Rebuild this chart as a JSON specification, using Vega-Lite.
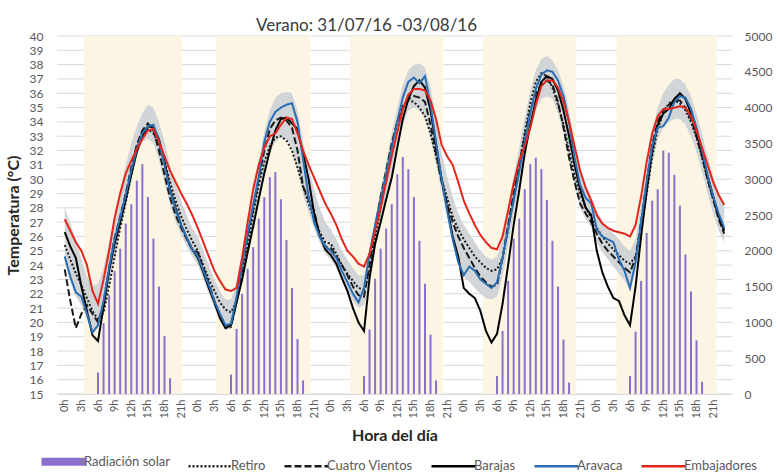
{
  "$schema": "https://vega.github.io/schema/vega-lite/v6.json",
  "width": 777,
  "height": 474,
  "autosize": {"type": "fit", "contains": "padding"},
  "padding": {"left": 5, "top": 17, "right": 5, "bottom": -4},
  "background": "white",
  "title": {"text": "Verano: 31/07/16 -03/08/16", "anchor": "middle", "dx": -28, "fontSize": 17, "fontWeight": "normal", "font": "Lato", "color": "#3a3a3a", "offset": -5},
  "config": {
    "font": "Lato",
    "view": {"stroke": null},
    "axisBottom": {"labelOverlap": false, "labelBound": false, "labelFlush": false, "labelAngle": -90, "grid": false, "ticks": false, "domainColor": "#d9d9d9", "labelColor": "#595959", "labelFontSize": 11, "labelPadding": 5, "titleFontSize": 16, "titleFontWeight": "bold", "titleColor": "#262626", "titlePadding": 10},
    "axisLeft": {"labelOverlap": false, "grid": false, "ticks": false, "domain": false, "labelColor": "#595959", "labelFontSize": 12, "labelPadding": 14, "titleFontSize": 16, "titleFontWeight": "bold", "titleColor": "#262626", "titlePadding": 8},
    "axisRight": {"labelOverlap": false, "grid": false, "ticks": false, "domain": false, "labelColor": "#595959", "labelFontSize": 12, "labelPadding": 12}
  },
  "datasets": {
    "grid": [
      {"v": 15}, {"v": 16}, {"v": 17}, {"v": 18}, {"v": 19}, {"v": 20}, {"v": 21}, {"v": 22}, {"v": 23}, {"v": 24}, {"v": 25}, {"v": 26}, {"v": 27},
      {"v": 28}, {"v": 29}, {"v": 30}, {"v": 31}, {"v": 32}, {"v": 33}, {"v": 34}, {"v": 35}, {"v": 36}, {"v": 37}, {"v": 38}, {"v": 39}, {"v": 40}
    ],
    "bands": [
      {"h": 3.5, "h2": 21.1}, {"h": 27.3, "h2": 44.3}, {"h": 51.5, "h2": 68.3}, {"h": 75.5, "h2": 92.3}, {"h": 99.6, "h2": 117.6}
    ],
    "rad": [
      {"h": 6, "rad": 300, "serie": "Radiación solar"}, {"h": 7, "rad": 990, "serie": "Radiación solar"}, {"h": 8, "rad": 1380, "serie": "Radiación solar"}, {"h": 9, "rad": 1720, "serie": "Radiación solar"}, {"h": 10, "rad": 2030, "serie": "Radiación solar"}, {"h": 11, "rad": 2380, "serie": "Radiación solar"}, {"h": 12, "rad": 2650, "serie": "Radiación solar"}, {"h": 13, "rad": 2980, "serie": "Radiación solar"}, {"h": 14, "rad": 3210, "serie": "Radiación solar"}, {"h": 15, "rad": 2750, "serie": "Radiación solar"}, {"h": 16, "rad": 2170, "serie": "Radiación solar"}, {"h": 17, "rad": 1500, "serie": "Radiación solar"}, {"h": 18, "rad": 810, "serie": "Radiación solar"}, {"h": 19, "rad": 220, "serie": "Radiación solar"},
      {"h": 30, "rad": 270, "serie": "Radiación solar"}, {"h": 31, "rad": 910, "serie": "Radiación solar"}, {"h": 32, "rad": 1400, "serie": "Radiación solar"}, {"h": 33, "rad": 1750, "serie": "Radiación solar"}, {"h": 34, "rad": 2050, "serie": "Radiación solar"}, {"h": 35, "rad": 2450, "serie": "Radiación solar"}, {"h": 36, "rad": 2750, "serie": "Radiación solar"}, {"h": 37, "rad": 3030, "serie": "Radiación solar"}, {"h": 38, "rad": 3100, "serie": "Radiación solar"}, {"h": 39, "rad": 2720, "serie": "Radiación solar"}, {"h": 40, "rad": 2150, "serie": "Radiación solar"}, {"h": 41, "rad": 1480, "serie": "Radiación solar"}, {"h": 42, "rad": 770, "serie": "Radiación solar"}, {"h": 43, "rad": 190, "serie": "Radiación solar"},
      {"h": 54, "rad": 250, "serie": "Radiación solar"}, {"h": 55, "rad": 900, "serie": "Radiación solar"}, {"h": 56, "rad": 1610, "serie": "Radiación solar"}, {"h": 57, "rad": 2030, "serie": "Radiación solar"}, {"h": 58, "rad": 2310, "serie": "Radiación solar"}, {"h": 59, "rad": 2650, "serie": "Radiación solar"}, {"h": 60, "rad": 3070, "serie": "Radiación solar"}, {"h": 61, "rad": 3310, "serie": "Radiación solar"}, {"h": 62, "rad": 3140, "serie": "Radiación solar"}, {"h": 63, "rad": 2750, "serie": "Radiación solar"}, {"h": 64, "rad": 2140, "serie": "Radiación solar"}, {"h": 65, "rad": 1540, "serie": "Radiación solar"}, {"h": 66, "rad": 830, "serie": "Radiación solar"}, {"h": 67, "rad": 190, "serie": "Radiación solar"},
      {"h": 78, "rad": 250, "serie": "Radiación solar"}, {"h": 79, "rad": 880, "serie": "Radiación solar"}, {"h": 80, "rad": 1580, "serie": "Radiación solar"}, {"h": 81, "rad": 2170, "serie": "Radiación solar"}, {"h": 82, "rad": 2450, "serie": "Radiación solar"}, {"h": 83, "rad": 2860, "serie": "Radiación solar"}, {"h": 84, "rad": 3210, "serie": "Radiación solar"}, {"h": 85, "rad": 3300, "serie": "Radiación solar"}, {"h": 86, "rad": 3140, "serie": "Radiación solar"}, {"h": 87, "rad": 2710, "serie": "Radiación solar"}, {"h": 88, "rad": 2140, "serie": "Radiación solar"}, {"h": 89, "rad": 1500, "serie": "Radiación solar"}, {"h": 90, "rad": 760, "serie": "Radiación solar"}, {"h": 91, "rad": 160, "serie": "Radiación solar"},
      {"h": 102, "rad": 250, "serie": "Radiación solar"}, {"h": 103, "rad": 870, "serie": "Radiación solar"}, {"h": 104, "rad": 1580, "serie": "Radiación solar"}, {"h": 105, "rad": 2250, "serie": "Radiación solar"}, {"h": 106, "rad": 2700, "serie": "Radiación solar"}, {"h": 107, "rad": 2860, "serie": "Radiación solar"}, {"h": 108, "rad": 3400, "serie": "Radiación solar"}, {"h": 109, "rad": 3370, "serie": "Radiación solar"}, {"h": 110, "rad": 3060, "serie": "Radiación solar"}, {"h": 111, "rad": 2630, "serie": "Radiación solar"}, {"h": 112, "rad": 1950, "serie": "Radiación solar"}, {"h": 113, "rad": 1430, "serie": "Radiación solar"}, {"h": 114, "rad": 750, "serie": "Radiación solar"}, {"h": 115, "rad": 170, "serie": "Radiación solar"}
    ],
    "temp": [
      {"h": 0, "Retiro": 25.4, "Cuatro Vientos": 23.7, "Barajas": 26.3, "Aravaca": 24.6, "Embajadores": 27.2, "lo": 24.2, "hi": 28.0},
      {"h": 1, "Retiro": 24.4, "Cuatro Vientos": 21.5, "Barajas": 25.3, "Aravaca": 23.2, "Embajadores": 26.4, "lo": 22.8, "hi": 26.9},
      {"h": 2, "Retiro": 23.4, "Cuatro Vientos": 19.6, "Barajas": 24.5, "Aravaca": 22.1, "Embajadores": 25.6, "lo": 21.8, "hi": 25.8},
      {"h": 3, "Retiro": 22.6, "Cuatro Vientos": 20.6, "Barajas": 22.5, "Aravaca": 21.8, "Embajadores": 25.0, "lo": 21.2, "hi": 24.4},
      {"h": 4, "Retiro": 21.7, "Cuatro Vientos": 21.2, "Barajas": 20.8, "Aravaca": 20.6, "Embajadores": 24.0, "lo": 20.2, "hi": 23.2},
      {"h": 5, "Retiro": 20.8, "Cuatro Vientos": 20.6, "Barajas": 19.1, "Aravaca": 19.3, "Embajadores": 22.2, "lo": 19.2, "hi": 22.5},
      {"h": 6, "Retiro": 20.2, "Cuatro Vientos": 20.0, "Barajas": 18.7, "Aravaca": 19.8, "Embajadores": 21.3, "lo": 19.6, "hi": 22.7},
      {"h": 7, "Retiro": 20.7, "Cuatro Vientos": 21.3, "Barajas": 21.1, "Aravaca": 21.5, "Embajadores": 23.0, "lo": 20.6, "hi": 23.8},
      {"h": 8, "Retiro": 22.5, "Cuatro Vientos": 23.8, "Barajas": 23.6, "Aravaca": 23.8, "Embajadores": 25.0, "lo": 22.4, "hi": 25.6},
      {"h": 9, "Retiro": 24.6, "Cuatro Vientos": 25.9, "Barajas": 25.5, "Aravaca": 25.8, "Embajadores": 27.3, "lo": 24.5, "hi": 27.5},
      {"h": 10, "Retiro": 26.6, "Cuatro Vientos": 27.4, "Barajas": 27.0, "Aravaca": 27.3, "Embajadores": 29.0, "lo": 26.4, "hi": 29.3},
      {"h": 11, "Retiro": 28.4, "Cuatro Vientos": 29.0, "Barajas": 28.6, "Aravaca": 28.9, "Embajadores": 30.4, "lo": 28.1, "hi": 31.0},
      {"h": 12, "Retiro": 30.3, "Cuatro Vientos": 30.8, "Barajas": 30.3, "Aravaca": 30.6, "Embajadores": 31.3, "lo": 30.0, "hi": 32.5},
      {"h": 13, "Retiro": 32.2, "Cuatro Vientos": 32.4, "Barajas": 31.9, "Aravaca": 32.1, "Embajadores": 32.1, "lo": 31.7, "hi": 33.7},
      {"h": 14, "Retiro": 33.3, "Cuatro Vientos": 33.4, "Barajas": 33.0, "Aravaca": 33.2, "Embajadores": 32.8, "lo": 32.6, "hi": 34.6},
      {"h": 15, "Retiro": 33.5, "Cuatro Vientos": 33.9, "Barajas": 33.7, "Aravaca": 33.7, "Embajadores": 33.4, "lo": 32.8, "hi": 35.2},
      {"h": 16, "Retiro": 33.2, "Cuatro Vientos": 33.4, "Barajas": 33.6, "Aravaca": 33.8, "Embajadores": 33.5, "lo": 32.5, "hi": 35.0},
      {"h": 17, "Retiro": 32.4, "Cuatro Vientos": 32.0, "Barajas": 32.8, "Aravaca": 32.7, "Embajadores": 32.6, "lo": 31.3, "hi": 34.0},
      {"h": 18, "Retiro": 31.2, "Cuatro Vientos": 30.3, "Barajas": 31.2, "Aravaca": 31.0, "Embajadores": 31.6, "lo": 29.7, "hi": 32.6},
      {"h": 19, "Retiro": 29.8, "Cuatro Vientos": 28.7, "Barajas": 29.3, "Aravaca": 29.2, "Embajadores": 30.6, "lo": 28.2, "hi": 31.0},
      {"h": 20, "Retiro": 28.5, "Cuatro Vientos": 27.5, "Barajas": 28.0, "Aravaca": 27.9, "Embajadores": 29.8, "lo": 27.0, "hi": 29.6},
      {"h": 21, "Retiro": 27.4, "Cuatro Vientos": 26.6, "Barajas": 26.8, "Aravaca": 26.8, "Embajadores": 29.0, "lo": 26.1, "hi": 28.5},
      {"h": 22, "Retiro": 26.5, "Cuatro Vientos": 25.8, "Barajas": 25.9, "Aravaca": 25.9, "Embajadores": 28.3, "lo": 25.3, "hi": 27.5},
      {"h": 23, "Retiro": 25.7, "Cuatro Vientos": 25.1, "Barajas": 25.1, "Aravaca": 25.1, "Embajadores": 27.5, "lo": 24.6, "hi": 26.6},
      {"h": 24, "Retiro": 25.0, "Cuatro Vientos": 24.9, "Barajas": 24.5, "Aravaca": 24.6, "Embajadores": 26.6, "lo": 24.0, "hi": 26.0},
      {"h": 25, "Retiro": 24.0, "Cuatro Vientos": 23.8, "Barajas": 23.5, "Aravaca": 23.6, "Embajadores": 25.6, "lo": 23.0, "hi": 25.0},
      {"h": 26, "Retiro": 23.0, "Cuatro Vientos": 22.7, "Barajas": 22.4, "Aravaca": 22.6, "Embajadores": 24.6, "lo": 22.0, "hi": 24.0},
      {"h": 27, "Retiro": 22.2, "Cuatro Vientos": 21.5, "Barajas": 21.4, "Aravaca": 21.5, "Embajadores": 23.6, "lo": 21.0, "hi": 23.0},
      {"h": 28, "Retiro": 21.4, "Cuatro Vientos": 20.5, "Barajas": 20.3, "Aravaca": 20.6, "Embajadores": 22.9, "lo": 20.1, "hi": 22.2},
      {"h": 29, "Retiro": 20.9, "Cuatro Vientos": 19.8, "Barajas": 19.6, "Aravaca": 19.8, "Embajadores": 22.3, "lo": 19.5, "hi": 21.6},
      {"h": 30, "Retiro": 20.7, "Cuatro Vientos": 19.7, "Barajas": 19.8, "Aravaca": 19.9, "Embajadores": 22.2, "lo": 19.5, "hi": 21.6},
      {"h": 31, "Retiro": 21.5, "Cuatro Vientos": 21.5, "Barajas": 21.4, "Aravaca": 21.8, "Embajadores": 22.4, "lo": 20.9, "hi": 22.8},
      {"h": 32, "Retiro": 23.2, "Cuatro Vientos": 23.8, "Barajas": 23.0, "Aravaca": 24.0, "Embajadores": 24.5, "lo": 22.8, "hi": 25.0},
      {"h": 33, "Retiro": 25.3, "Cuatro Vientos": 26.0, "Barajas": 24.9, "Aravaca": 26.2, "Embajadores": 27.0, "lo": 24.6, "hi": 27.2},
      {"h": 34, "Retiro": 27.6, "Cuatro Vientos": 28.0, "Barajas": 26.7, "Aravaca": 28.2, "Embajadores": 29.3, "lo": 26.4, "hi": 29.4},
      {"h": 35, "Retiro": 29.6, "Cuatro Vientos": 30.0, "Barajas": 28.6, "Aravaca": 30.2, "Embajadores": 31.0, "lo": 28.4, "hi": 31.3},
      {"h": 36, "Retiro": 31.2, "Cuatro Vientos": 32.0, "Barajas": 30.4, "Aravaca": 32.6, "Embajadores": 32.2, "lo": 30.3, "hi": 33.3},
      {"h": 37, "Retiro": 32.3, "Cuatro Vientos": 33.5, "Barajas": 32.0, "Aravaca": 34.0, "Embajadores": 33.0, "lo": 31.8, "hi": 34.8},
      {"h": 38, "Retiro": 32.9, "Cuatro Vientos": 34.1, "Barajas": 33.4, "Aravaca": 34.7, "Embajadores": 33.2, "lo": 32.6, "hi": 35.7},
      {"h": 39, "Retiro": 33.0, "Cuatro Vientos": 34.3, "Barajas": 34.2, "Aravaca": 35.0, "Embajadores": 33.8, "lo": 32.9, "hi": 36.0},
      {"h": 40, "Retiro": 32.7, "Cuatro Vientos": 34.1, "Barajas": 34.3, "Aravaca": 35.2, "Embajadores": 34.3, "lo": 32.8, "hi": 36.1},
      {"h": 41, "Retiro": 32.0, "Cuatro Vientos": 33.6, "Barajas": 33.9, "Aravaca": 35.3, "Embajadores": 34.2, "lo": 32.2, "hi": 36.0},
      {"h": 42, "Retiro": 30.8, "Cuatro Vientos": 32.0, "Barajas": 33.5, "Aravaca": 34.0, "Embajadores": 33.2, "lo": 30.6, "hi": 34.8},
      {"h": 43, "Retiro": 29.5, "Cuatro Vientos": 29.5, "Barajas": 31.8, "Aravaca": 31.4, "Embajadores": 32.0, "lo": 28.9, "hi": 32.6},
      {"h": 44, "Retiro": 28.3, "Cuatro Vientos": 28.6, "Barajas": 30.0, "Aravaca": 28.8, "Embajadores": 31.0, "lo": 27.7, "hi": 30.8},
      {"h": 45, "Retiro": 27.2, "Cuatro Vientos": 27.8, "Barajas": 27.6, "Aravaca": 27.0, "Embajadores": 30.1, "lo": 26.6, "hi": 29.3},
      {"h": 46, "Retiro": 26.3, "Cuatro Vientos": 26.0, "Barajas": 26.1, "Aravaca": 26.0, "Embajadores": 29.2, "lo": 25.6, "hi": 28.0},
      {"h": 47, "Retiro": 25.6, "Cuatro Vientos": 25.3, "Barajas": 25.1, "Aravaca": 25.3, "Embajadores": 28.3, "lo": 24.8, "hi": 27.0},
      {"h": 48, "Retiro": 25.5, "Cuatro Vientos": 25.2, "Barajas": 24.7, "Aravaca": 25.0, "Embajadores": 27.6, "lo": 24.4, "hi": 26.5},
      {"h": 49, "Retiro": 24.8, "Cuatro Vientos": 24.6, "Barajas": 24.1, "Aravaca": 24.5, "Embajadores": 26.8, "lo": 23.8, "hi": 25.8},
      {"h": 50, "Retiro": 24.0, "Cuatro Vientos": 24.0, "Barajas": 23.1, "Aravaca": 23.6, "Embajadores": 25.8, "lo": 23.0, "hi": 25.0},
      {"h": 51, "Retiro": 23.4, "Cuatro Vientos": 23.3, "Barajas": 22.2, "Aravaca": 22.8, "Embajadores": 25.0, "lo": 22.2, "hi": 24.4},
      {"h": 52, "Retiro": 22.9, "Cuatro Vientos": 22.5, "Barajas": 21.0, "Aravaca": 22.0, "Embajadores": 24.6, "lo": 21.5, "hi": 23.8},
      {"h": 53, "Retiro": 22.4, "Cuatro Vientos": 21.9, "Barajas": 20.0, "Aravaca": 21.4, "Embajadores": 24.1, "lo": 21.0, "hi": 23.3},
      {"h": 54, "Retiro": 22.3, "Cuatro Vientos": 21.8, "Barajas": 19.4, "Aravaca": 22.4, "Embajadores": 23.9, "lo": 21.2, "hi": 23.3},
      {"h": 55, "Retiro": 23.6, "Cuatro Vientos": 24.0, "Barajas": 23.1, "Aravaca": 24.8, "Embajadores": 24.8, "lo": 22.8, "hi": 25.2},
      {"h": 56, "Retiro": 25.8, "Cuatro Vientos": 26.6, "Barajas": 25.5, "Aravaca": 26.8, "Embajadores": 26.4, "lo": 25.0, "hi": 27.2},
      {"h": 57, "Retiro": 28.0, "Cuatro Vientos": 28.8, "Barajas": 27.0, "Aravaca": 28.6, "Embajadores": 28.0, "lo": 26.8, "hi": 29.2},
      {"h": 58, "Retiro": 30.2, "Cuatro Vientos": 30.6, "Barajas": 28.6, "Aravaca": 30.4, "Embajadores": 29.8, "lo": 28.6, "hi": 31.2},
      {"h": 59, "Retiro": 32.3, "Cuatro Vientos": 32.5, "Barajas": 30.1, "Aravaca": 32.2, "Embajadores": 31.6, "lo": 30.3, "hi": 33.2},
      {"h": 60, "Retiro": 34.0, "Cuatro Vientos": 34.0, "Barajas": 32.2, "Aravaca": 34.0, "Embajadores": 33.3, "lo": 32.2, "hi": 35.0},
      {"h": 61, "Retiro": 35.1, "Cuatro Vientos": 35.0, "Barajas": 34.2, "Aravaca": 35.7, "Embajadores": 34.9, "lo": 33.8, "hi": 36.6},
      {"h": 62, "Retiro": 35.5, "Cuatro Vientos": 35.6, "Barajas": 35.6, "Aravaca": 36.8, "Embajadores": 35.9, "lo": 34.8, "hi": 37.6},
      {"h": 63, "Retiro": 35.4, "Cuatro Vientos": 35.8, "Barajas": 36.5, "Aravaca": 37.1, "Embajadores": 36.3, "lo": 35.0, "hi": 38.0},
      {"h": 64, "Retiro": 35.0, "Cuatro Vientos": 35.7, "Barajas": 36.9, "Aravaca": 36.7, "Embajadores": 36.3, "lo": 34.8, "hi": 38.1},
      {"h": 65, "Retiro": 34.4, "Cuatro Vientos": 35.4, "Barajas": 36.4, "Aravaca": 37.2, "Embajadores": 36.2, "lo": 34.2, "hi": 37.8},
      {"h": 66, "Retiro": 33.2, "Cuatro Vientos": 33.8, "Barajas": 34.8, "Aravaca": 35.2, "Embajadores": 35.5, "lo": 32.8, "hi": 36.4},
      {"h": 67, "Retiro": 31.6, "Cuatro Vientos": 31.8, "Barajas": 32.4, "Aravaca": 32.6, "Embajadores": 34.2, "lo": 31.0, "hi": 34.2},
      {"h": 68, "Retiro": 30.0, "Cuatro Vientos": 29.8, "Barajas": 30.0, "Aravaca": 30.0, "Embajadores": 32.4, "lo": 29.2, "hi": 31.8},
      {"h": 69, "Retiro": 28.7, "Cuatro Vientos": 28.3, "Barajas": 28.0, "Aravaca": 27.8, "Embajadores": 31.6, "lo": 27.4, "hi": 30.2},
      {"h": 70, "Retiro": 27.4, "Cuatro Vientos": 27.0, "Barajas": 26.0, "Aravaca": 25.8, "Embajadores": 31.0, "lo": 25.6, "hi": 28.8},
      {"h": 71, "Retiro": 26.5, "Cuatro Vientos": 26.0, "Barajas": 24.6, "Aravaca": 24.2, "Embajadores": 29.8, "lo": 24.4, "hi": 27.6},
      {"h": 72, "Retiro": 25.8, "Cuatro Vientos": 25.2, "Barajas": 22.4, "Aravaca": 23.3, "Embajadores": 28.5, "lo": 23.2, "hi": 26.8},
      {"h": 73, "Retiro": 25.2, "Cuatro Vientos": 24.5, "Barajas": 22.0, "Aravaca": 23.9, "Embajadores": 27.6, "lo": 22.8, "hi": 26.2},
      {"h": 74, "Retiro": 24.6, "Cuatro Vientos": 23.8, "Barajas": 21.7, "Aravaca": 23.6, "Embajadores": 26.8, "lo": 22.4, "hi": 25.6},
      {"h": 75, "Retiro": 24.2, "Cuatro Vientos": 23.2, "Barajas": 20.8, "Aravaca": 23.0, "Embajadores": 26.1, "lo": 22.0, "hi": 25.0},
      {"h": 76, "Retiro": 23.8, "Cuatro Vientos": 22.8, "Barajas": 19.4, "Aravaca": 22.7, "Embajadores": 25.6, "lo": 21.7, "hi": 24.6},
      {"h": 77, "Retiro": 23.6, "Cuatro Vientos": 22.5, "Barajas": 18.6, "Aravaca": 22.4, "Embajadores": 25.2, "lo": 21.6, "hi": 24.4},
      {"h": 78, "Retiro": 23.7, "Cuatro Vientos": 22.6, "Barajas": 19.2, "Aravaca": 22.8, "Embajadores": 25.1, "lo": 21.8, "hi": 24.6},
      {"h": 79, "Retiro": 24.5, "Cuatro Vientos": 24.5, "Barajas": 21.3, "Aravaca": 24.5, "Embajadores": 26.0, "lo": 23.2, "hi": 25.8},
      {"h": 80, "Retiro": 26.5, "Cuatro Vientos": 26.8, "Barajas": 24.0, "Aravaca": 26.5, "Embajadores": 27.8, "lo": 25.3, "hi": 28.0},
      {"h": 81, "Retiro": 28.7, "Cuatro Vientos": 29.0, "Barajas": 26.8, "Aravaca": 28.5, "Embajadores": 29.7, "lo": 27.5, "hi": 30.2},
      {"h": 82, "Retiro": 31.0, "Cuatro Vientos": 31.0, "Barajas": 29.2, "Aravaca": 30.5, "Embajadores": 31.3, "lo": 29.6, "hi": 32.2},
      {"h": 83, "Retiro": 33.3, "Cuatro Vientos": 33.0, "Barajas": 31.8, "Aravaca": 32.6, "Embajadores": 32.3, "lo": 31.6, "hi": 34.3},
      {"h": 84, "Retiro": 35.3, "Cuatro Vientos": 34.8, "Barajas": 33.8, "Aravaca": 34.6, "Embajadores": 33.6, "lo": 33.4, "hi": 36.2},
      {"h": 85, "Retiro": 36.8, "Cuatro Vientos": 36.0, "Barajas": 35.5, "Aravaca": 36.3, "Embajadores": 35.2, "lo": 34.8, "hi": 37.6},
      {"h": 86, "Retiro": 37.4, "Cuatro Vientos": 36.6, "Barajas": 36.8, "Aravaca": 37.3, "Embajadores": 36.5, "lo": 35.6, "hi": 38.4},
      {"h": 87, "Retiro": 37.2, "Cuatro Vientos": 36.9, "Barajas": 37.2, "Aravaca": 37.6, "Embajadores": 36.9, "lo": 35.8, "hi": 38.6},
      {"h": 88, "Retiro": 36.4, "Cuatro Vientos": 36.6, "Barajas": 37.0, "Aravaca": 37.5, "Embajadores": 36.9, "lo": 35.6, "hi": 38.3},
      {"h": 89, "Retiro": 35.2, "Cuatro Vientos": 35.4, "Barajas": 36.2, "Aravaca": 36.9, "Embajadores": 36.4, "lo": 34.6, "hi": 37.6},
      {"h": 90, "Retiro": 33.8, "Cuatro Vientos": 33.6, "Barajas": 34.8, "Aravaca": 35.8, "Embajadores": 35.4, "lo": 33.2, "hi": 36.5},
      {"h": 91, "Retiro": 32.0, "Cuatro Vientos": 31.5, "Barajas": 33.0, "Aravaca": 34.0, "Embajadores": 34.0, "lo": 31.2, "hi": 34.8},
      {"h": 92, "Retiro": 30.3, "Cuatro Vientos": 29.8, "Barajas": 31.0, "Aravaca": 31.5, "Embajadores": 32.3, "lo": 29.5, "hi": 32.6},
      {"h": 93, "Retiro": 29.0, "Cuatro Vientos": 28.3, "Barajas": 29.3, "Aravaca": 29.6, "Embajadores": 30.6, "lo": 28.0, "hi": 30.8},
      {"h": 94, "Retiro": 28.0, "Cuatro Vientos": 27.6, "Barajas": 28.0, "Aravaca": 28.7, "Embajadores": 29.4, "lo": 27.2, "hi": 29.6},
      {"h": 95, "Retiro": 27.3, "Cuatro Vientos": 27.0, "Barajas": 27.5, "Aravaca": 28.3, "Embajadores": 28.5, "lo": 26.6, "hi": 28.8},
      {"h": 96, "Retiro": 26.6, "Cuatro Vientos": 26.2, "Barajas": 25.0, "Aravaca": 26.5, "Embajadores": 27.5, "lo": 25.6, "hi": 27.8},
      {"h": 97, "Retiro": 26.0, "Cuatro Vientos": 25.5, "Barajas": 23.5, "Aravaca": 26.0, "Embajadores": 26.9, "lo": 24.9, "hi": 27.1},
      {"h": 98, "Retiro": 25.5, "Cuatro Vientos": 25.0, "Barajas": 22.5, "Aravaca": 25.8, "Embajadores": 26.6, "lo": 24.4, "hi": 26.6},
      {"h": 99, "Retiro": 25.1, "Cuatro Vientos": 24.6, "Barajas": 21.7, "Aravaca": 25.6, "Embajadores": 26.4, "lo": 23.9, "hi": 26.2},
      {"h": 100, "Retiro": 24.7, "Cuatro Vientos": 24.2, "Barajas": 21.5, "Aravaca": 24.4, "Embajadores": 26.3, "lo": 23.4, "hi": 25.8},
      {"h": 101, "Retiro": 24.3, "Cuatro Vientos": 23.8, "Barajas": 20.5, "Aravaca": 23.6, "Embajadores": 26.2, "lo": 22.9, "hi": 25.3},
      {"h": 102, "Retiro": 24.1, "Cuatro Vientos": 23.5, "Barajas": 19.8, "Aravaca": 22.4, "Embajadores": 26.0, "lo": 22.2, "hi": 25.0},
      {"h": 103, "Retiro": 24.6, "Cuatro Vientos": 24.5, "Barajas": 22.5, "Aravaca": 24.2, "Embajadores": 26.8, "lo": 23.6, "hi": 25.8},
      {"h": 104, "Retiro": 26.5, "Cuatro Vientos": 27.0, "Barajas": 26.0, "Aravaca": 27.0, "Embajadores": 28.8, "lo": 25.8, "hi": 28.2},
      {"h": 105, "Retiro": 29.0, "Cuatro Vientos": 29.8, "Barajas": 29.2, "Aravaca": 29.8, "Embajadores": 31.2, "lo": 28.4, "hi": 30.8},
      {"h": 106, "Retiro": 31.6, "Cuatro Vientos": 32.4, "Barajas": 32.0, "Aravaca": 32.3, "Embajadores": 33.2, "lo": 31.0, "hi": 33.4},
      {"h": 107, "Retiro": 33.5, "Cuatro Vientos": 34.0, "Barajas": 33.8, "Aravaca": 33.6, "Embajadores": 34.4, "lo": 32.8, "hi": 35.0},
      {"h": 108, "Retiro": 34.6, "Cuatro Vientos": 34.8, "Barajas": 34.6, "Aravaca": 33.7, "Embajadores": 34.9, "lo": 33.6, "hi": 36.0},
      {"h": 109, "Retiro": 35.3, "Cuatro Vientos": 35.2, "Barajas": 34.9, "Aravaca": 34.3, "Embajadores": 34.9, "lo": 34.0, "hi": 36.6},
      {"h": 110, "Retiro": 35.5, "Cuatro Vientos": 35.5, "Barajas": 35.6, "Aravaca": 35.4, "Embajadores": 35.0, "lo": 34.2, "hi": 37.0},
      {"h": 111, "Retiro": 35.3, "Cuatro Vientos": 35.5, "Barajas": 36.0, "Aravaca": 35.8, "Embajadores": 35.1, "lo": 34.2, "hi": 37.0},
      {"h": 112, "Retiro": 34.8, "Cuatro Vientos": 35.0, "Barajas": 35.6, "Aravaca": 35.7, "Embajadores": 35.0, "lo": 33.8, "hi": 36.6},
      {"h": 113, "Retiro": 34.0, "Cuatro Vientos": 34.2, "Barajas": 34.6, "Aravaca": 34.9, "Embajadores": 34.4, "lo": 33.0, "hi": 35.8},
      {"h": 114, "Retiro": 32.9, "Cuatro Vientos": 33.0, "Barajas": 33.3, "Aravaca": 33.6, "Embajadores": 33.4, "lo": 31.9, "hi": 34.6},
      {"h": 115, "Retiro": 31.5, "Cuatro Vientos": 31.6, "Barajas": 31.8, "Aravaca": 32.0, "Embajadores": 32.2, "lo": 30.5, "hi": 33.2},
      {"h": 116, "Retiro": 30.0, "Cuatro Vientos": 30.0, "Barajas": 30.2, "Aravaca": 30.3, "Embajadores": 31.0, "lo": 29.0, "hi": 31.6},
      {"h": 117, "Retiro": 28.6, "Cuatro Vientos": 28.6, "Barajas": 28.8, "Aravaca": 28.8, "Embajadores": 29.8, "lo": 27.6, "hi": 30.2},
      {"h": 118, "Retiro": 27.4, "Cuatro Vientos": 27.2, "Barajas": 27.4, "Aravaca": 27.6, "Embajadores": 28.9, "lo": 26.4, "hi": 29.0},
      {"h": 119, "Retiro": 26.5, "Cuatro Vientos": 26.2, "Barajas": 26.4, "Aravaca": 26.6, "Embajadores": 28.2, "lo": 25.6, "hi": 28.0}
    ]
  },
  "encoding": {
    "x": {
      "field": "h", "type": "quantitative", "title": "Hora del día",
      "scale": {"domain": [-0.5, 119.5], "nice": false, "zero": false},
      "axis": {
        "values": [0, 3, 6, 9, 12, 15, 18, 21, 24, 27, 30, 33, 36, 39, 42, 45, 48, 51, 54, 57, 60, 63, 66, 69, 72, 75, 78, 81, 84, 87, 90, 93, 96, 99, 102, 105, 108, 111, 114, 117],
        "labelExpr": "(datum.value % 24) + 'h'", "labelOverlap": false, "labelAngle": -90, "zindex": 1
      }
    }
  },
  "resolve": {"scale": {"y": "independent"}},
  "layer": [
    {
      "data": {"name": "grid"},
      "mark": {"type": "rule", "color": "#d9d9d9", "strokeWidth": 1},
      "encoding": {
        "x": null,
        "y": {"field": "v", "type": "quantitative", "scale": {"domain": [15, 40], "nice": false, "zero": false}, "axis": null}
      }
    },
    {
      "data": {"name": "bands"},
      "mark": {"type": "rect", "color": "#fdf5e3"},
      "encoding": {
        "x2": {"field": "h2"},
        "y": {"datum": 15, "type": "quantitative", "scale": {"domain": [15, 40], "nice": false, "zero": false}, "axis": null},
        "y2": {"datum": 40}
      }
    },
    {
      "data": {"name": "temp"},
      "mark": {"type": "area", "color": "#d2d5d8", "opacity": 1},
      "encoding": {
        "y": {
          "field": "lo", "type": "quantitative", "title": "Temperatura (°C)",
          "scale": {"domain": [15, 40], "nice": false, "zero": false},
          "axis": {"values": [15, 16, 17, 18, 19, 20, 21, 22, 23, 24, 25, 26, 27, 28, 29, 30, 31, 32, 33, 34, 35, 36, 37, 38, 39, 40]}
        },
        "y2": {"field": "hi"}
      }
    },
    {
      "data": {"name": "rad"},
      "mark": {"type": "bar", "width": 2},
      "encoding": {
        "y": {
          "field": "rad", "type": "quantitative", "title": null,
          "scale": {"domain": [0, 5000], "nice": false},
          "axis": {"orient": "right", "format": "d", "values": [0, 500, 1000, 1500, 2000, 2500, 3000, 3500, 4000, 4500, 5000]}
        },
        "color": {
          "field": "serie", "type": "nominal", "title": null,
          "scale": {"domain": ["Radiación solar", "Retiro", "Cuatro Vientos", "Barajas", "Aravaca", "Embajadores"], "range": ["#8a70cc", "#1a1a1a", "#1a1a1a", "#000000", "#2a6db1", "#e3261c"]}
        }
      }
    },
    {
      "data": {"name": "temp"},
      "transform": [{"fold": ["Retiro", "Cuatro Vientos", "Barajas", "Aravaca", "Embajadores"], "as": ["serie", "temp"]}],
      "mark": {"type": "line", "strokeWidth": 2},
      "encoding": {
        "y": {"field": "temp", "type": "quantitative", "scale": {"domain": [15, 40], "nice": false, "zero": false}, "axis": null},
        "color": {
          "field": "serie", "type": "nominal", "title": null,
          "scale": {"domain": ["Radiación solar", "Retiro", "Cuatro Vientos", "Barajas", "Aravaca", "Embajadores"], "range": ["#8a70cc", "#1a1a1a", "#1a1a1a", "#000000", "#2a6db1", "#e3261c"]},
          "legend": {"orient": "bottom", "direction": "horizontal", "title": null, "symbolType": "stroke", "symbolSize": 1936, "symbolStrokeWidth": 8, "labelFontSize": 13, "labelColor": "#595959", "labelFont": "Lato", "columnPadding": 13, "labelOffset": 14, "offset": 11,
            "encode": {"symbols": {"update": {"strokeWidth": {"signal": "datum.value === 'Radiación solar' ? 8 : 2.5"}}}}}
        },
        "strokeDash": {
          "field": "serie", "type": "nominal", "title": null,
          "scale": {"domain": ["Radiación solar", "Retiro", "Cuatro Vientos", "Barajas", "Aravaca", "Embajadores"], "range": [[1, 0], [2, 2], [7, 3], [1, 0], [1, 0], [1, 0]]},
          "legend": {"orient": "bottom", "direction": "horizontal", "title": null, "symbolType": "stroke", "symbolSize": 1936, "symbolStrokeWidth": 8, "labelFontSize": 13, "labelColor": "#595959", "labelFont": "Lato", "columnPadding": 13, "labelOffset": 14, "offset": 11,
            "encode": {"symbols": {"update": {"strokeWidth": {"signal": "datum.value === 'Radiación solar' ? 8 : 2.5"}}}}}
        }
      }
    }
  ]
}
